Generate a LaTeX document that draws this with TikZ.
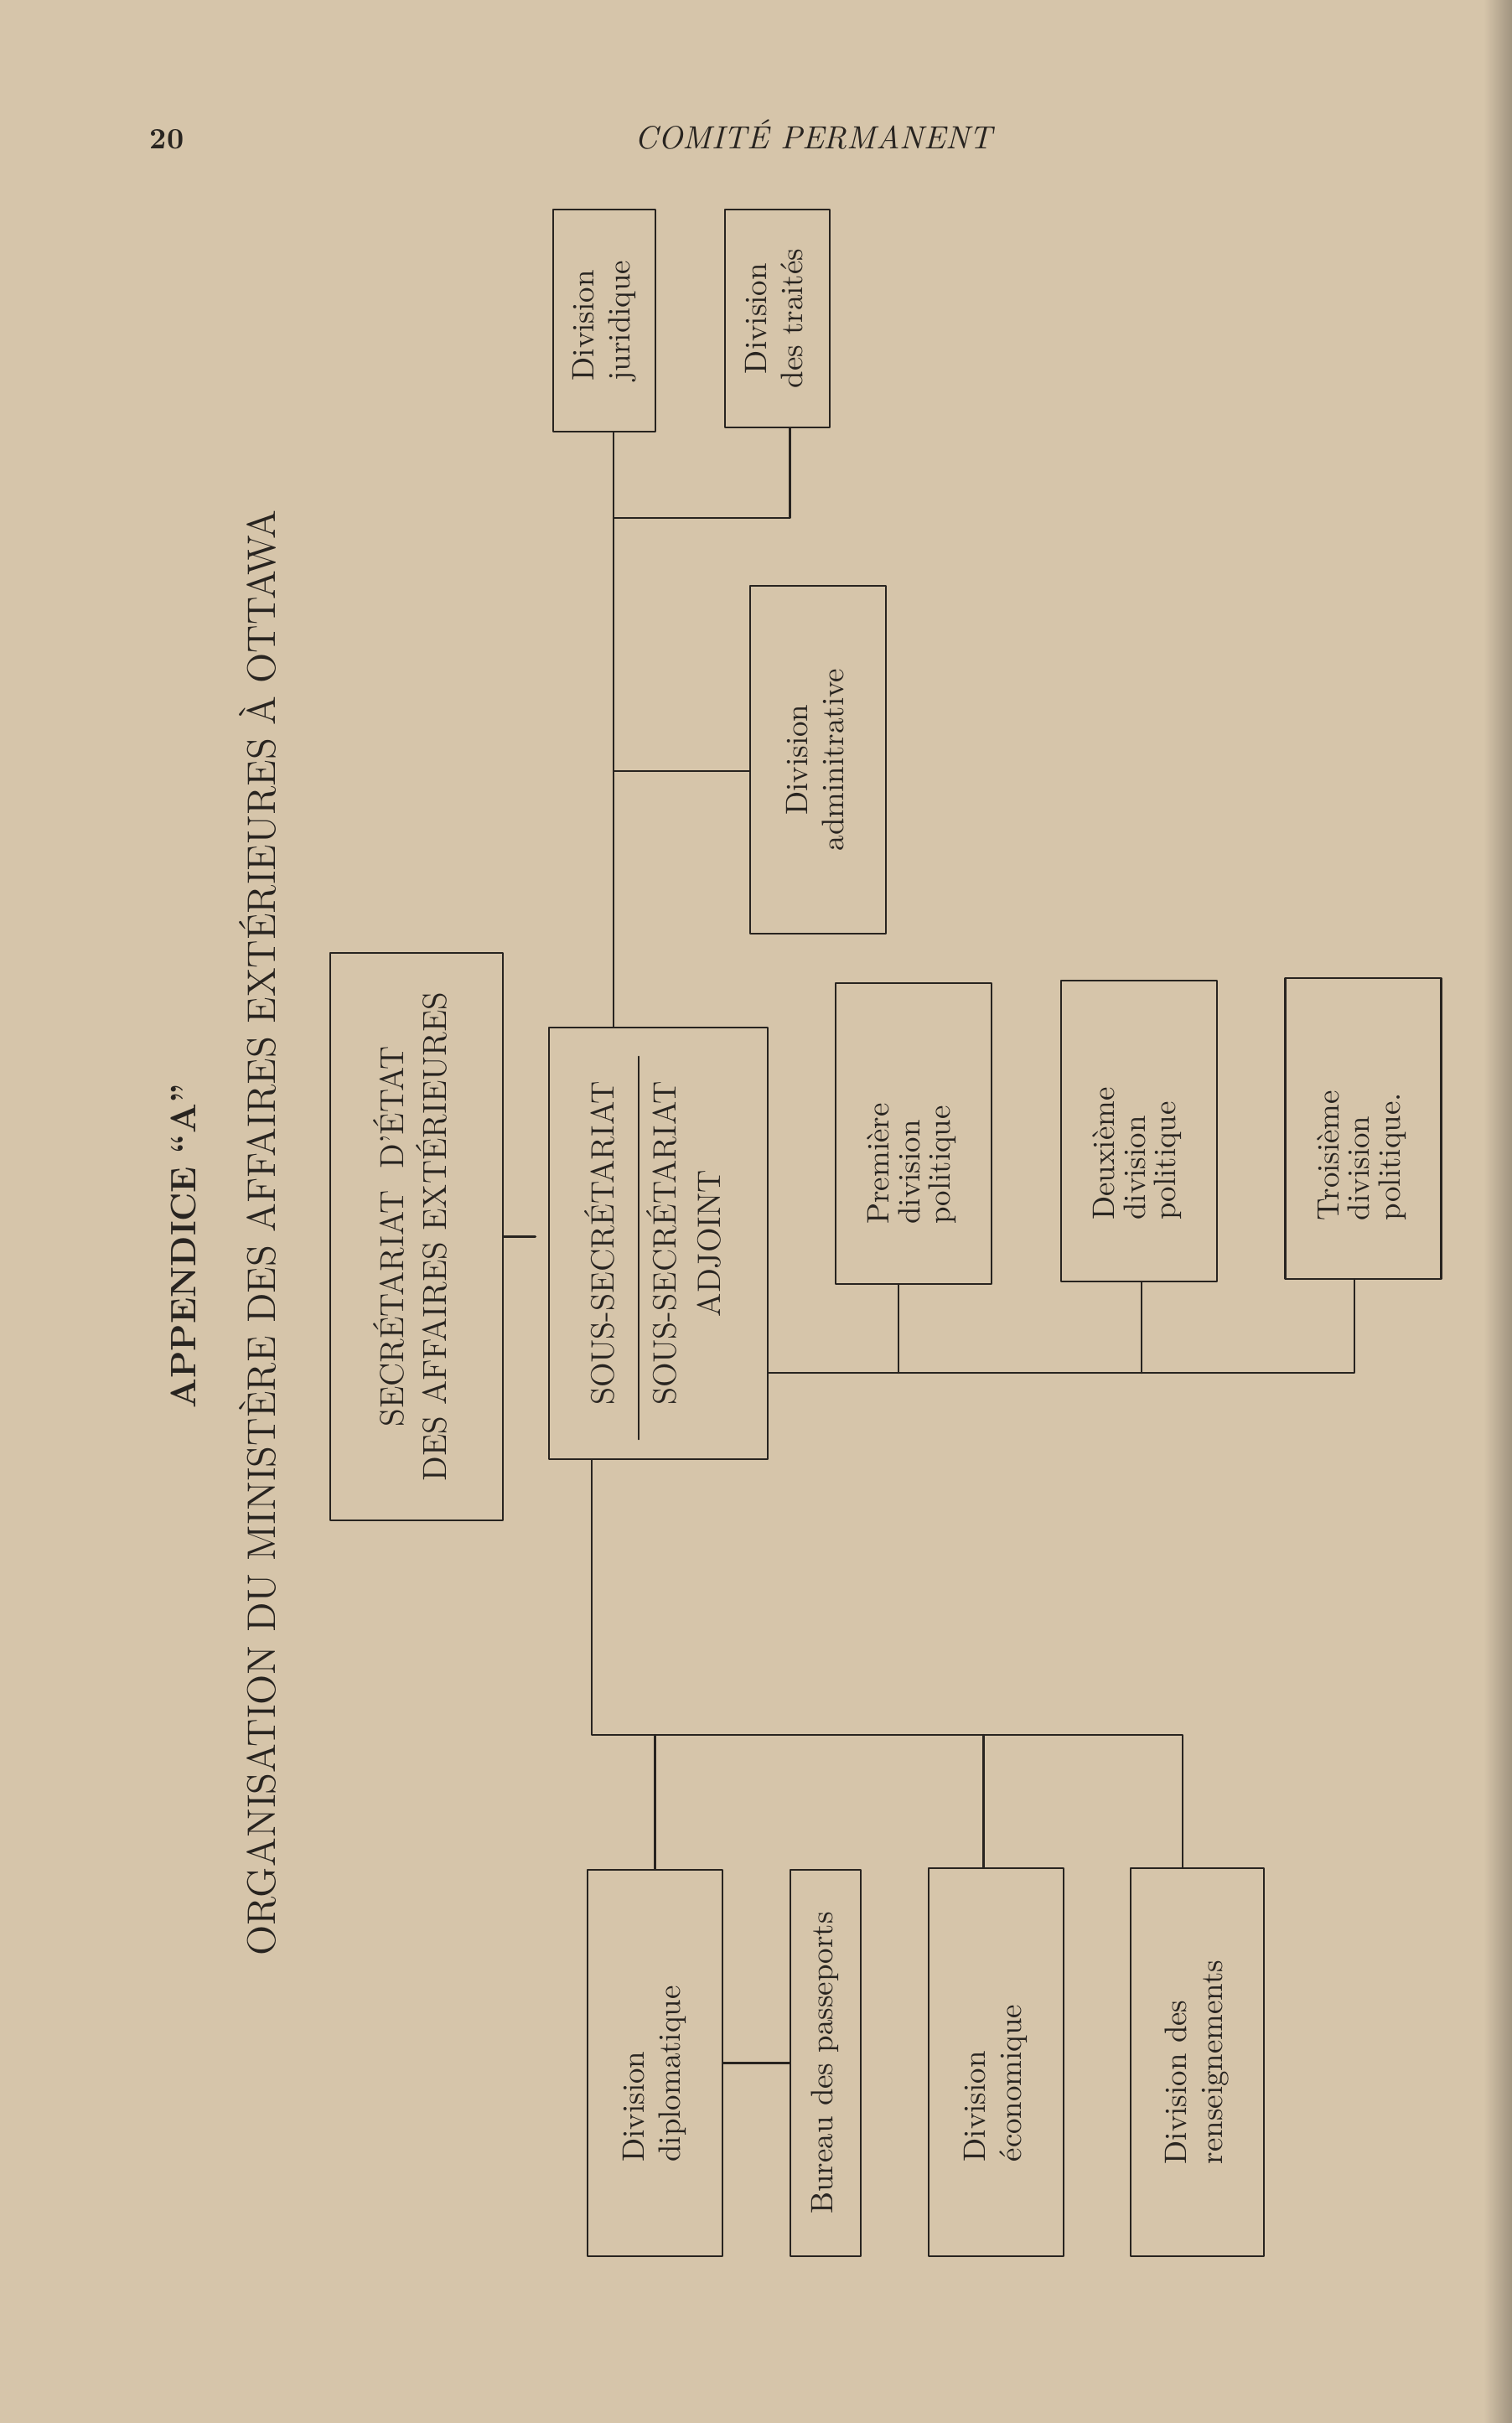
\documentclass[tikz,border=0pt]{standalone}
\usepackage{graphicx}
\definecolor{paper}{RGB}{214,197,170}
\definecolor{ink}{RGB}{40,36,32}
\newlength{\vpad}
\newcommand{\vtext}[2][l]{\rotatebox{90}{\begin{tabular}{@{}#1@{}}#2\end{tabular}\hspace*{\vpad}}}
\begin{document}
\begin{tikzpicture}[line join=round, line cap=round, font=\fontsize{10.5}{12.3}\selectfont]
	\fill[paper](0,0)rectangle(18.04,-28.91);
	\shade[left color=paper, right color=paper!75!black](17.70,0)rectangle(18.04,-28.91);
	\tikzset{box/.style={draw=ink, line width=0.7pt, inner sep=0pt, text=ink},
		link/.style={draw=ink, line width=0.7pt},
		pol/.style={box, minimum width=1.86cm, minimum height=3.59cm, font=\fontsize{10.5}{10.4}\selectfont\setlength{\vpad}{#1}}}
	% en-tete de page
	\node[text=ink, anchor=base, font=\fontsize{10}{12}\selectfont\bfseries] (pg) at (1.99,-1.77) {20};
	\node[text=ink, anchor=base, font=\fontsize{10.9}{12}\selectfont\itshape] (run) at (9.71,-1.77) {COMITÉ PERMANENT};
	\node[text=ink, anchor=base, rotate=90, font=\fontsize{12}{14}\selectfont\bfseries] (app) at (2.33,-14.87) {APPENDICE “A”};
	\node[text=ink, anchor=base, rotate=90, font=\fontsize{13.5}{15}\selectfont] (ttl) at (3.28,-14.71) {ORGANISATION DU MINISTÈRE DES AFFAIRES EXTÉRIEURES À OTTAWA};
	% cases
	\node[box, minimum width=1.22cm, minimum height=2.65cm] (jur) at (7.21,-3.825) {\vtext{Division\\juridique}};
	\node[box, minimum width=1.25cm, minimum height=2.60cm] (trai) at (9.275,-3.80) {\vtext[c]{Division\\des traités}};
	\node[box, minimum width=1.62cm, minimum height=4.15cm] (adm) at (9.76,-9.065) {\vtext[c]{Division\\adminitrative}};
	\node[box, minimum width=2.06cm, minimum height=6.77cm, font=\fontsize{11.3}{14.5}\selectfont] (sec) at (4.97,-14.755) {\vtext[c]{SECRÉTARIAT~~D’ÉTAT\\DES AFFAIRES EXTÉRIEURES}};
	\node[box, minimum width=2.61cm, minimum height=5.15cm, font=\fontsize{11}{15}\selectfont] (sous) at (7.855,-14.835) {\vtext[c]{SOUS-SECRÉTARIAT\\[6pt]SOUS-SECRÉTARIAT\\ADJOINT}};
	\draw[link] ([xshift=-2.35mm,yshift=-3.6mm]sous.north) -- ([xshift=-2.35mm,yshift=2.5mm]sous.south);
	\node[pol=7.2mm] (pol1) at (10.90,-13.525) {\vtext{Première\\division\\politique}};
	\node[pol=5.4mm] (pol2) at (13.59,-13.495) {\vtext{Deuxième\\division\\politique}};
	\node[pol=6.4mm] (pol3) at (16.265,-13.465) {\vtext{Troisième\\division\\politique.}};
	\node[box, minimum width=1.61cm, minimum height=4.61cm, font=\fontsize{10.5}{12.3}\selectfont\setlength{\vpad}{2.6mm}] (dipl) at (7.815,-24.615) {\vtext{Division\\diplomatique}};
	\node[box, minimum width=0.84cm, minimum height=4.61cm] (pass) at (9.85,-24.615) {\vtext{Bureau des passeports}};
	\node[box, minimum width=1.61cm, minimum height=4.63cm, font=\fontsize{10.5}{12.3}\selectfont\setlength{\vpad}{5mm}] (eco) at (11.885,-24.605) {\vtext{Division\\économique}};
	\node[box, minimum width=1.59cm, minimum height=4.63cm] (rens) at (14.285,-24.605) {\vtext{Division des\\renseignements}};
	% liaisons
	\coordinate (tk) at (7.32,-6.18);
	\coordinate (ta) at (7.32,-9.20);
	\coordinate (rb) at (16.16,-16.38);
	\coordinate (bb) at (7.06,-20.70);
	\coordinate (be) at (14.11,-20.70);
	\draw[link] (tk |- jur.south) -- (tk |- sous.north);
	\draw[link] ([xshift=1.5mm]trai.south) |- (tk);
	\draw[link] (ta) -- (ta -| adm.west);
	\draw[link, shorten >=1.5mm] (sec.east) -- (sec.east -| sous.west);
	\draw[link] (rb -| sous.east) -- (rb) -- (rb |- pol3.south);
	\foreach \n/\d in {pol1/-1.8mm, pol2/0.3mm}
		\draw[link] ([xshift=\d]\n.south) -- ([xshift=\d]\n.south |- rb);
	\draw[link] (bb |- sous.south) -- (bb) -- (be) -- (be |- rens.north);
	\foreach \n/\d in {dipl/0mm, eco/-1.5mm}
		\draw[link] ([xshift=\d]\n.north) -- ([xshift=\d]\n.north |- bb);
	\draw[link] (dipl.east) -- (pass.west);
\end{tikzpicture}
\end{document}
